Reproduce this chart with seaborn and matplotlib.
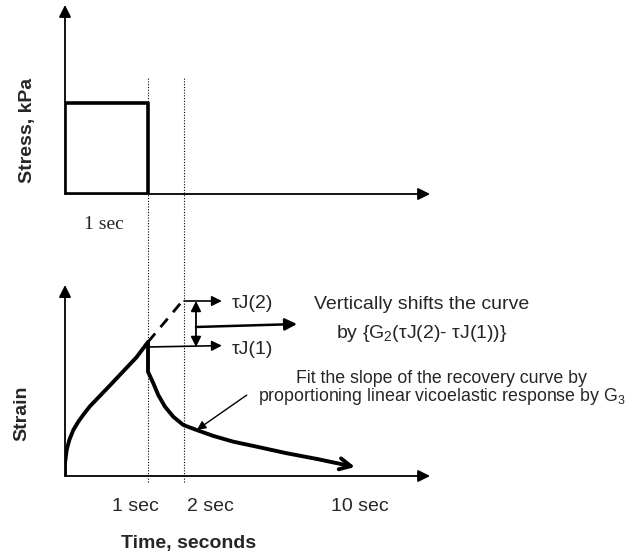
import matplotlib
matplotlib.use("Agg")
import matplotlib.pyplot as plt
import seaborn as sns

sns.set_style("white")
plt.rcParams["font.family"] = ["Liberation Sans", "DejaVu Sans"]
plt.rcParams["mathtext.fontset"] = "custom"
plt.rcParams["mathtext.rm"] = "Liberation Sans"
plt.rcParams["mathtext.it"] = "Liberation Sans:italic"
plt.rcParams["mathtext.bf"] = "Liberation Sans:bold"

# Applied load: a 1 s square stress pulse (stress normalised to its peak)
stress_time = [0.0, 0.0, 1.0, 1.0, 0.0]
stress_level = [0.0, 1.0, 1.0, 0.0, 0.0]

# Strain response on a schematic time axis: creep while loaded ...
creep_time = [0.0, 0.0, 0.02, 0.052, 0.10, 0.16, 0.23, 0.30, 0.54, 0.70,
              0.86, 1.0]
creep_strain = [0.0, 0.097, 0.194, 0.269, 0.343, 0.405, 0.465, 0.52, 0.675,
                0.78, 0.885, 1.0]
# ... then instantaneous drop and delayed recovery after unloading
recovery_time = [1.0, 1.0, 1.064, 1.124, 1.205, 1.305, 1.425, 1.587, 1.787,
                 2.028, 2.309, 2.67, 3.036, 3.494]
recovery_strain = [1.0, 0.778, 0.692, 0.604, 0.517, 0.442, 0.381, 0.343,
                   0.299, 0.256, 0.219, 0.17, 0.127, 0.067]

# Creep extrapolated to the 2 s mark
extrap_time = [1.0, 1.434]
extrap_strain = [1.0, 1.32]

# Compliance levels used for the vertical shift
tauJ1 = 0.963
tauJ2 = 1.306

# Dotted guides: end of loading (1 s) and the 2 s mark
marker_times = [1.0, 1.434]
time_labels = ["1 sec", "2 sec", "10 sec"]
time_label_pos = [0.843, 1.747, 3.55]

W, H = 628, 554
fig = plt.figure(figsize=(W / 100, H / 100), dpi=100)

ax_top = fig.add_axes([65 / W, (H - 194) / H, 415 / W, 194 / H])
ax_bot = fig.add_axes([65 / W, (H - 476) / H, 415 / W, 216 / H])
ax_top.set_xlim(0, 5.0)
ax_top.set_ylim(0, 194 / 91)
ax_bot.set_xlim(0, 5.0)
ax_bot.set_ylim(0, 216 / 134)
for ax in (ax_top, ax_bot):
    ax.axis("off")

axis_arrow = dict(arrowstyle="-|>", lw=1.3, color="black", mutation_scale=18,
                  shrinkA=0, shrinkB=0)


def axis_arrows(ax, xmax, ymax):
    ax.annotate("", xy=(xmax, 0), xytext=(0, 0), arrowprops=axis_arrow,
                annotation_clip=False)
    ax.annotate("", xy=(0, ymax), xytext=(0, 0), arrowprops=axis_arrow,
                annotation_clip=False)


# ---- stress panel ----
axis_arrows(ax_top, 4.398, 2.077)
sns.lineplot(x=stress_time, y=stress_level, sort=False, estimator=None,
             color="black", lw=2.6, ax=ax_top)
ax_top.text(0.47, -0.34, "1 sec", ha="center", va="center", fontsize=14,
            family=["Liberation Serif", "DejaVu Serif"])

# ---- strain panel ----
axis_arrows(ax_bot, 4.398, 1.425)
ax_bot.vlines(marker_times, -0.045, 2.978, colors="black", lw=0.8,
              linestyles=(0, (1, 1.5)), clip_on=False)

curve_t = creep_time + recovery_time
curve_s = creep_strain + recovery_strain
sns.lineplot(x=curve_t[:-1], y=curve_s[:-1], sort=False, estimator=None,
             color="black", lw=2.8, ax=ax_bot)
ax_bot.lines[-1].set_solid_joinstyle("round")
ax_bot.annotate("", xy=(curve_t[-1], curve_s[-1]),
                xytext=(curve_t[-2], curve_s[-2]),
                arrowprops=dict(arrowstyle="->", lw=2.8, color="black",
                                mutation_scale=20, shrinkA=0, shrinkB=0))
sns.lineplot(x=extrap_time, y=extrap_strain, sort=False, estimator=None,
             color="black", lw=2.0, ax=ax_bot)
ax_bot.lines[-1].set_dashes((4, 3))

small_arrow = dict(arrowstyle="-|>", lw=1.2, color="black", mutation_scale=15,
                   shrinkA=0, shrinkB=0)
ax_bot.annotate("", xy=(1.89, tauJ2), xytext=(extrap_time[-1], tauJ2),
                arrowprops=small_arrow)
ax_bot.annotate("", xy=(1.89, tauJ1 + 0.01), xytext=(1.02, tauJ1),
                arrowprops=small_arrow)
ax_bot.text(2.01, tauJ2 - 0.02, "\u03c4J(2)", ha="left", va="center", fontsize=14)
ax_bot.text(2.01, tauJ1 - 0.02, "\u03c4J(1)", ha="left", va="center", fontsize=14)

ax_bot.annotate("", xy=(1.578, tauJ2), xytext=(1.578, tauJ1),
                arrowprops=dict(arrowstyle="<|-|>", lw=1.3, color="black",
                                mutation_scale=15, shrinkA=0, shrinkB=0))
ax_bot.annotate("", xy=(2.795, 1.134), xytext=(1.578, 1.112),
                arrowprops=dict(arrowstyle="-|>", lw=1.8, color="black",
                                mutation_scale=18, shrinkA=0, shrinkB=0))

ax_bot.text(4.30, 1.28, "Vertically shifts the curve", ha="center",
            va="center", fontsize=14)
ax_bot.text(4.30, 1.06, "by {G$_2$(\u03c4J(2)- \u03c4J(1))}", ha="center",
            va="center", fontsize=14)
ax_bot.text(4.54, 0.73, "Fit the slope of the recovery curve by",
            ha="center", va="center", fontsize=12.8)
ax_bot.text(4.54, 0.59, "proportioning linear vicoelastic response by G$_3$",
            ha="center", va="center", fontsize=12.8)
ax_bot.annotate("", xy=(1.59, 0.345), xytext=(2.19, 0.604),
                arrowprops=dict(arrowstyle="-|>", lw=1.0, color="black",
                                mutation_scale=13, shrinkA=0, shrinkB=0))

for lab, pos in zip(time_labels, time_label_pos):
    ax_bot.text(pos, -0.224, lab, ha="center", va="center", fontsize=14)

ax_bot.text(1.494, -0.507, "Time, seconds", ha="center", va="center",
            fontsize=14, fontweight="bold")
fig.text(28 / W, 1 - 130 / H, "Stress, kPa", rotation=90, ha="center",
         va="center", fontsize=14, fontweight="bold")
fig.text(22 / W, 1 - 413 / H, "Strain", rotation=90, ha="center",
         va="center", fontsize=14, fontweight="bold")

fig.savefig("out.png", dpi=100, facecolor="white")
